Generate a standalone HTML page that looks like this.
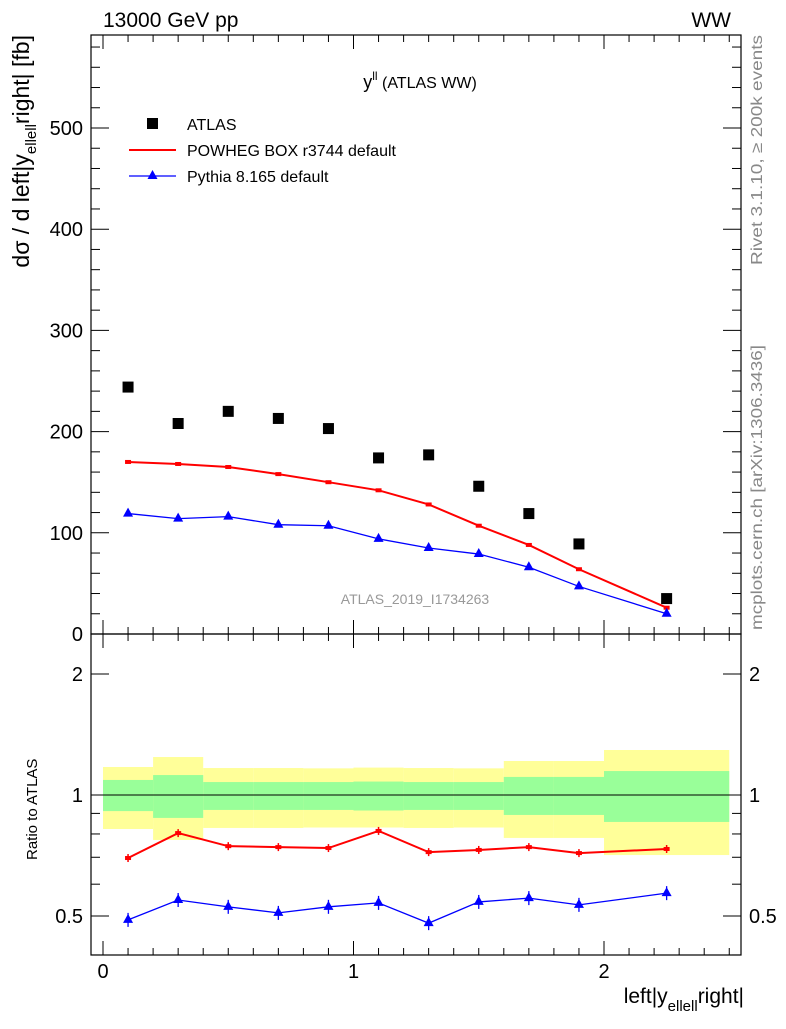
<!DOCTYPE html>
<html><head><meta charset="utf-8"><style>
body{margin:0;background:#fff}
svg{font-family:"Liberation Sans",sans-serif}
</style></head><body>
<svg id="c" width="786" height="1024" xmlns="http://www.w3.org/2000/svg">
<text x="103" y="27" font-size="21">13000 GeV pp</text>
<text x="731" y="27" font-size="21" text-anchor="end">WW</text>
<text x="420" y="88" font-size="18" text-anchor="middle">y<tspan font-size="12" dy="-8">ll</tspan><tspan dy="8" font-size="16"> (ATLAS WW)</tspan></text>
<text transform="translate(762,265) rotate(-90)" font-size="16" fill="#888" textLength="230" lengthAdjust="spacingAndGlyphs">Rivet 3.1.10, ≥ 200k events</text>
<text transform="translate(762,630) rotate(-90)" font-size="16" fill="#888" textLength="285" lengthAdjust="spacingAndGlyphs">mcplots.cern.ch [arXiv:1306.3436]</text>
<text x="415" y="604" font-size="14" fill="#999" text-anchor="middle">ATLAS_2019_I1734263</text>
<text transform="translate(29,35) rotate(-90)" font-size="23" text-anchor="end">dσ / d left|y<tspan font-size="15" dy="7">ellell</tspan><tspan dy="-7">right| [fb]</tspan></text>
<text transform="translate(37,860) rotate(-90)" font-size="15">Ratio to ATLAS</text>
<text x="744" y="1003" font-size="21" text-anchor="end">left|y<tspan font-size="15" dy="8">ellell</tspan><tspan dy="-8">right|</tspan></text>
<g>
<rect x="147" y="118" width="11" height="11" fill="#000"/>
<text x="187" y="130" font-size="16">ATLAS</text>
<line x1="129" y1="150" x2="176" y2="150" stroke="red" stroke-width="2"/>
<text x="187" y="156" font-size="16">POWHEG BOX r3744 default</text>
<line x1="129" y1="176" x2="176" y2="176" stroke="blue" stroke-width="1.3"/>
<path d="M152.5,170 l5,9 h-10z" fill="blue"/>
<text x="187" y="182" font-size="16">Pythia 8.165 default</text>
</g>
</svg>
<script>
const binLo=[0,0.2,0.4,0.6,0.8,1.0,1.2,1.4,1.6,1.8,2.0];
const binHi=[0.2,0.4,0.6,0.8,1.0,1.2,1.4,1.6,1.8,2.0,2.5];
const xVals=[0.1,0.3,0.5,0.7,0.9,1.1,1.3,1.5,1.7,1.9,2.25];
const atlas=[244,208,220,213,203,174,177,146,119,89,35];
const powheg=[170,168,165,158,150,142,128,107,88,64,26];
const pythia=[119,114,116,108,107,94,85,79,66,47,20];
const ratioPowheg=[0.697,0.804,0.746,0.742,0.738,0.814,0.721,0.730,0.742,0.717,0.734];
const ratioPythia=[0.489,0.548,0.527,0.509,0.527,0.539,0.480,0.542,0.554,0.533,0.570];
const yellowHi=[1.174,1.243,1.167,1.167,1.165,1.17,1.167,1.165,1.215,1.215,1.294];
const yellowLo=[0.823,0.773,0.828,0.828,0.83,0.83,0.828,0.83,0.782,0.782,0.709];
const greenHi=[1.09,1.121,1.077,1.077,1.077,1.08,1.077,1.077,1.109,1.109,1.147];
const greenLo=[0.912,0.877,0.918,0.918,0.918,0.915,0.918,0.918,0.892,0.892,0.857];
const xTicks=[0,1,2];
const yTicks=[0,100,200,300,400,500];
const rTicks=[0.5,1,2];
const NS="http://www.w3.org/2000/svg",svg=document.getElementById('c');
const L=91,R=741,T=35,M=634,B=955;
const X=v=>103+v*250.5, Y=v=>634-v*1.012, RY=v=>795-Math.log10(v)*402;
function el(t,a,name){const e=document.createElementNS(NS,t);for(const k in a)e.setAttribute(k,a[k]);


svg.appendChild(e);return e;}
binLo.forEach((lo,i)=>{
 el('rect',{x:X(lo),y:RY(yellowHi[i]),width:X(binHi[i])-X(lo),height:RY(yellowLo[i])-RY(yellowHi[i]),fill:'#ffff99'},'band-yellow-'+i);
});
binLo.forEach((lo,i)=>{
 el('rect',{x:X(lo),y:RY(greenHi[i]),width:X(binHi[i])-X(lo),height:RY(greenLo[i])-RY(greenHi[i]),fill:'#99ff99'},'band-green-'+i);
});
el('line',{x1:X(0),x2:X(2.5),y1:RY(1),y2:RY(1),stroke:'#000','stroke-width':1},'ratio-unity-line');
el('rect',{x:L,y:T,width:R-L,height:M-T,fill:'none',stroke:'#000','stroke-width':1.2},'main-frame');
el('rect',{x:L,y:M,width:R-L,height:B-M,fill:'none',stroke:'#000','stroke-width':1.2},'ratio-frame');
for(let v=0;v<=2.5001;v+=0.1){const maj=Math.abs(v-Math.round(v))<1e-6;const h=maj?14:7;const x=X(v);
 [[T,1],[M,-1],[M,1],[B,-1]].forEach(([y,d])=>el('line',{x1:x,x2:x,y1:y,y2:y+d*h,stroke:'#000'},'x-tick'));}
xTicks.forEach(v=>{const t=el('text',{x:X(v),y:978,'font-size':20,'text-anchor':'middle'},'x-tick-label');t.textContent=v;});
for(let v=0;v<=590;v+=20){const maj=v%100==0;const h=maj?18:9;const y=Y(v);
 el('line',{x1:L,x2:L+h,y1:y,y2:y,stroke:'#000'},'y-tick');el('line',{x1:R,x2:R-h,y1:y,y2:y,stroke:'#000'},'y-tick');}
yTicks.forEach(v=>{const t=el('text',{x:83,y:Y(v)+7,'font-size':20,'text-anchor':'end'},'y-tick-label');t.textContent=v;});
const rMinor=[0.4,0.5,0.6,0.7,0.8,0.9,1,2];
rMinor.forEach(r=>{const maj=(r==0.5||r==1||r==2);const h=maj?18:9;const y=RY(r);
 el('line',{x1:L,x2:L+h,y1:y,y2:y,stroke:'#000'},'ratio-tick');el('line',{x1:R,x2:R-h,y1:y,y2:y,stroke:'#000'},'ratio-tick');});
rTicks.forEach(v=>{let t=el('text',{x:83,y:RY(v)+7,'font-size':20,'text-anchor':'end'},'ratio-tick-label');t.textContent=v;
 t=el('text',{x:749,y:RY(v)+7,'font-size':20},'ratio-tick-label-right');t.textContent=v;});
function line(vals,fy,col,w,name){el('polyline',{points:xVals.map((x,i)=>X(x)+','+fy(vals[i])).join(' '),fill:'none',stroke:col,'stroke-width':w},name);}
line(powheg,Y,'red',2,'powheg-line');line(pythia,Y,'blue',1.3,'pythia-line');
line(ratioPowheg,RY,'red',2,'ratio-powheg-line');line(ratioPythia,RY,'blue',1.3,'ratio-pythia-line');
xVals.forEach((x,i)=>{
 el('rect',{x:X(x)-5.5,y:Y(atlas[i])-5.5,width:11,height:11,fill:'#000'},'atlas-point');
 el('rect',{x:X(x)-3,y:Y(powheg[i])-2,width:6,height:4,fill:'red'},'powheg-point');
 el('path',{d:`M${X(x)},${Y(pythia[i])-6} l5,9 h-10z`,fill:'blue'},'pythia-point');
 el('line',{x1:X(x),x2:X(x),y1:RY(ratioPowheg[i])-4,y2:RY(ratioPowheg[i])+4,stroke:'red','stroke-width':1.5},'ratio-powheg-err');
 el('rect',{x:X(x)-3,y:RY(ratioPowheg[i])-2,width:6,height:4,fill:'red'},'ratio-powheg-point');
 el('line',{x1:X(x),x2:X(x),y1:RY(ratioPythia[i])-7,y2:RY(ratioPythia[i])+7,stroke:'blue','stroke-width':1.3},'ratio-pythia-err');
 el('path',{d:`M${X(x)},${RY(ratioPythia[i])-6} l5,9 h-10z`,fill:'blue'},'ratio-pythia-point');
});
</script>
</body></html>
